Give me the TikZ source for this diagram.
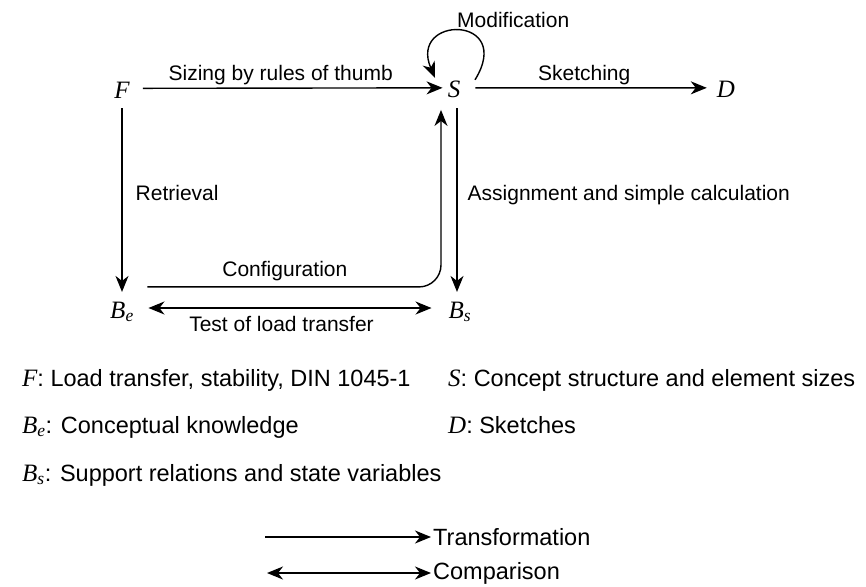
\documentclass[tikz,border=0pt]{standalone}
\usepackage{fontspec}
\setmainfont{Liberation Sans}
\newfontfamily\letfont{Liberation Serif}
\newcommand\varsym[1]{{\fontsize{25}{27}\selectfont\letfont\itshape #1}}
\usetikzlibrary{arrows.meta, positioning}

\begin{document}
\begin{tikzpicture}[
    x=1pt, y=-1pt,
    every node/.style={font=\fontsize{21}{25}\selectfont},
    letter/.style={font=\fontsize{25}{27}\selectfont\letfont\itshape, inner sep=0pt, anchor=base},
    lab/.style={inner sep=2.5pt},
    legend/.style={font=\fontsize{23.5}{27}\selectfont, inner sep=0pt, anchor=base west},
    arrow/.style={-{Stealth[length=16pt, width=13pt, inset=5pt]}, line width=1.4pt},
    twoway/.style={{Stealth[length=16pt, width=13pt, inset=5pt]}-{Stealth[length=16pt, width=13pt, inset=5pt]}, line width=1.4pt}
]
    \useasboundingbox (0,0) rectangle (866,586);

    \node[letter] (F) at (122,98) {F};
    \node[letter] (S) at (454,97) {S};
    \node[letter] (D) at (726,97) {D};
    \node[letter] (Be) at (122,318) {B\textsubscript{e}};
    \node[letter] (Bs) at (460,318) {B\textsubscript{s}};

    \draw[arrow] ([xshift=13pt,yshift=1.5pt]F.east) -- node[lab, above, pos=0.46] {Sizing by rules of thumb} ([xshift=-5pt,yshift=1pt]S.west);
    \draw[arrow] ([xshift=15pt,yshift=1pt]S.east) -- node[lab, above, pos=0.47] {Sketching} ([xshift=-10pt,yshift=1pt]D.west);
    \draw[arrow] ([xshift=21pt,yshift=9pt]S.center) .. controls ([xshift=61pt,yshift=74pt]S.center) and ([xshift=-46pt,yshift=74pt]S.center) .. ([xshift=-19pt,yshift=11pt]S.center);
    \node[anchor=base west, inner sep=0pt] (modlab) at (457,28) {Modification};

    \draw[arrow] ([yshift=-10pt]F.south) -- node[lab, right, inner sep=13pt, pos=0.46] {Retrieval} ([yshift=9.5pt]F.south |- Be.north);
    \draw[arrow] ([xshift=3pt,yshift=-11pt]S.south) -- node[lab, right, inner sep=10pt, pos=0.47] {Assignment and simple calculation} ([xshift=3pt,yshift=9.5pt]S.south |- Bs.north);
    \draw[arrow, rounded corners=22pt] ([xshift=13.5pt,yshift=14.5pt]Be.north east) -| node[lab, above, inner sep=5pt, pos=0.234] {Configuration} ([xshift=-13pt,yshift=-12.5pt]S.south);
    \draw[twoway] ([xshift=14.5pt,yshift=10pt]Be.base east) -- node[lab, below, inner sep=8pt, pos=0.47] {Test of load transfer} ([xshift=-17pt,yshift=10pt]Bs.base west);

    \node[legend] (legF) at (22,386) {\varsym{F}: Load transfer, stability, DIN 1045-1};
    \node[legend] (legS) at (448,386) {\varsym{S}: Concept structure and element sizes};
    \node[legend] (legBe) at (22,433) {\varsym{B\textsubscript{e}}: Conceptual knowledge};
    \node[legend] (legD) at (448,433) {\varsym{D}: Sketches};
    \node[legend] (legBs) at (22,481) {\varsym{B\textsubscript{s}}: Support relations and state variables};

    \node[legend, anchor=west, inner sep=2pt] (trans) at (431,537) {Transformation};
    \node[legend, anchor=west, inner sep=2pt] (comp) at (431,573) {Comparison};
    \coordinate (transstart) at (265,537);
    \coordinate (compstart) at (267,573);
    \draw[arrow] (transstart) -- (trans.west);
    \draw[twoway] (compstart) -- (comp.west);
\end{tikzpicture}
\end{document}
